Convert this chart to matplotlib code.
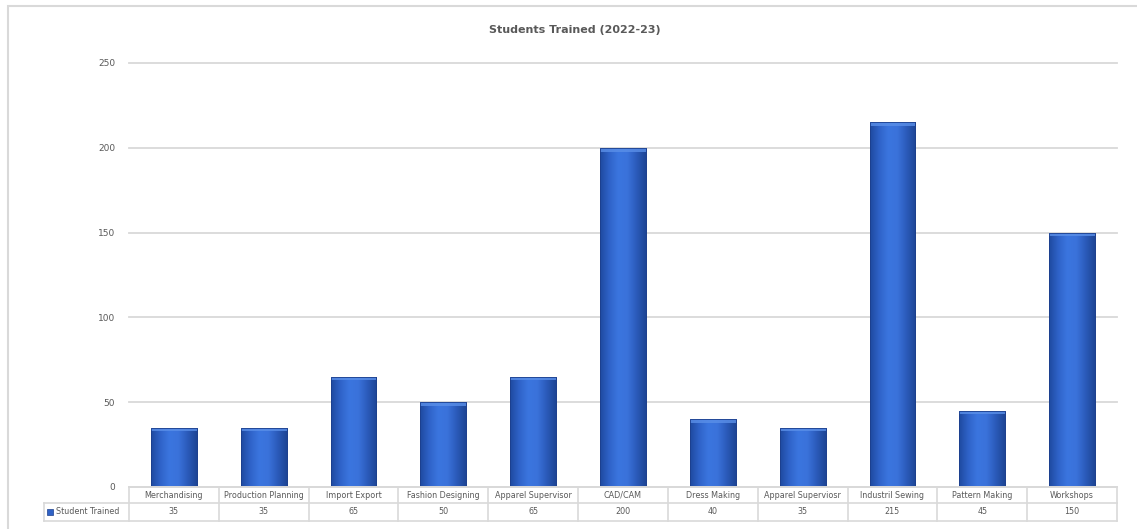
import matplotlib
matplotlib.use("Agg")
import matplotlib.pyplot as plt
import numpy as np
from matplotlib.colors import LinearSegmentedColormap
from matplotlib.patches import Rectangle
from matplotlib.lines import Line2D

categories = ["Merchandising", "Production Planning", "Import Export", "Fashion Designing",
              "Apparel Supervisor", "CAD/CAM", "Dress Making", "Apparel Superviosr",
              "Industril Sewing", "Pattern Making", "Workshops"]
values = [35, 35, 65, 50, 65, 200, 40, 35, 215, 45, 150]
series_name = "Student Trained"
title = "Students Trained (2022-23)"
yticks = [0, 50, 100, 150, 200, 250]

W, H = 1137, 529
fig = plt.figure(figsize=(W / 100, H / 100), dpi=100)
plt.rcParams['font.family'] = ['DejaVu Sans']

def fx(px):
    return px / W

def fy(py):
    return 1 - py / H

grid_c = "#d9d9d9"
text_c = "#595959"

# outer chart border
fig.add_artist(Rectangle((fx(8), fy(540)), fx(1140), 534 / H, transform=fig.transFigure,
                         fill=False, edgecolor="#d9d9d9", lw=1.5))

ax_l, ax_r, ax_t, ax_b = 129, 1117, 63, 487
ax = fig.add_axes([fx(ax_l), fy(ax_b), fx(ax_r - ax_l), (ax_b - ax_t) / H])
n = len(categories)
x = np.arange(n)
ax.set_xlim(-0.5, n - 0.5)
ax.set_ylim(0, 250)
ax.set_yticks(yticks)
ax.set_yticklabels([str(v) for v in yticks], fontsize=6.5, color=text_c)
ax.tick_params(axis='y', length=0, pad=10)
ax.set_xticks([])
for s in ax.spines.values():
    s.set_visible(False)
for t in yticks:
    ax.axhline(t, color=grid_c, lw=1.3, zorder=0.5, clip_on=False)

bars = ax.bar(x, values, width=0.51, color="#3066cc", edgecolor="#1c3f8c", lw=0.6, zorder=2)
cmap = LinearSegmentedColormap.from_list("b", ["#1f4aa0", "#2f63c9", "#3b75df", "#3a72da", "#2b5bbb", "#1e4696"])
grad = np.tile(np.linspace(0, 1, 64), (2, 1))
for b in bars:
    x0, w, h = b.get_x(), b.get_width(), b.get_height()
    im = ax.imshow(grad, cmap=cmap, aspect='auto', extent=(x0, x0 + w, 0, h), zorder=3,
                   interpolation='bicubic')
    im.set_clip_path(b)
    # top bevel highlight
    ax.add_patch(Rectangle((x0, h - 2.2), w, 2.2, color="#5a8fe8", alpha=0.8, zorder=4, lw=0))
    ax.add_patch(Rectangle((x0, 0), w, h, fill=False, edgecolor="#1c3f8c", lw=0.6, zorder=5))
ax.axhline(0, color=grid_c, lw=1.3, zorder=6, clip_on=False)

# title
fig.text(fx(575), fy(30), title, ha='center', va='center', fontsize=8, color=text_c,
         fontweight='bold')

# data table below
col_w = (ax_r - ax_l) / n
r0, r1, r2 = 487, 503, 521
lbl_l = 44

def hline(y, x0, x1):
    fig.add_artist(Line2D([fx(x0), fx(x1)], [fy(y), fy(y)], transform=fig.transFigure,
                          color=grid_c, lw=1.2))

def vline(xp, y0, y1):
    fig.add_artist(Line2D([fx(xp), fx(xp)], [fy(y0), fy(y1)], transform=fig.transFigure,
                          color=grid_c, lw=1.2))

hline(r0, ax_l, ax_r)
hline(r1, lbl_l, ax_r)
hline(r2, lbl_l, ax_r)
vline(lbl_l, r1, r2)
for i in range(n + 1):
    vline(ax_l + i * col_w, r0, r2)
for i, (c, v) in enumerate(zip(categories, values)):
    cx = ax.transData.transform((x[i], 0))[0]
    fig.text(cx / W, fy((r0 + r1) / 2), c, ha='center', va='center', fontsize=5.8, color=text_c)
    fig.text(cx / W, fy((r1 + r2) / 2), str(v), ha='center', va='center', fontsize=5.8, color=text_c)
fig.add_artist(Rectangle((fx(47), fy(515)), fx(6), 6 / H, transform=fig.transFigure,
                         facecolor="#2f62c6", edgecolor="#1c3f8c", lw=0.5))
fig.text(fx(56), fy((r1 + r2) / 2), series_name, ha='left', va='center', fontsize=5.8, color=text_c)

fig.savefig("out.png", dpi=100)
